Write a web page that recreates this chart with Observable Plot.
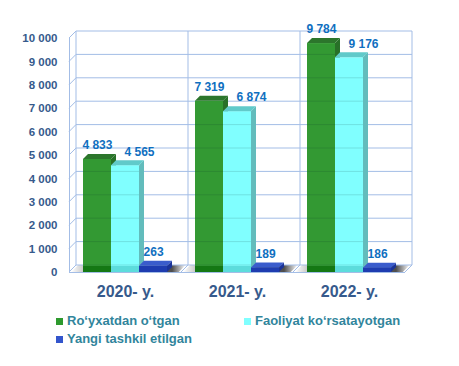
<!DOCTYPE html>
<html>
<head>
<meta charset="utf-8">
<script src="https://cdn.jsdelivr.net/npm/d3@7"></script>
<script src="https://cdn.jsdelivr.net/npm/@observablehq/plot@0.6"></script>
<style>
  html, body { margin: 0; padding: 0; background: #ffffff; }
  #wrap { position: relative; width: 459px; height: 366px; overflow: hidden; font-family: "Liberation Sans", Arial, sans-serif; }
  #chart svg { display: block; }
  #chart [aria-label^="x-axis"] text { font-size: 16px; }
  #chart [aria-label^="y-axis"] text { font-size: 11.5px; }
  .item { position: absolute; display: flex; align-items: center; gap: 4px; font-size: 13px; line-height: 14px; font-weight: bold; color: #31859C; white-space: nowrap; }
  .sw { width: 7px; height: 7px; display: inline-block; }
</style>
</head>
<body>
<div id="wrap">
  <div id="chart"></div>
  <div id="legend"></div>
</div>
<script>
// ---- data ----
const years = ["2020- y.", "2021- y.", "2022- y."];
const registered = [4833, 7319, 9784];     // Ro‘yxatdan o‘tgan
const active = [4565, 6874, 9176];         // Faoliyat ko‘rsatayotgan
const newlyCreated = [263, 189, 186];      // Yangi tashkil etilgan
const seriesNames = ["Ro‘yxatdan o‘tgan", "Faoliyat ko‘rsatayotgan", "Yangi tashkil etilgan"];
const yTicks = [0, 1000, 2000, 3000, 4000, 5000, 6000, 7000, 8000, 9000, 10000];

const seriesValues = [registered, active, newlyCreated];
const palette = [
  {front: "#339933", top: "#2c762c", side: "#287028", strip: "#147814", legend: "#2e9a2e"},
  {front: "#80ffff", top: "#60caca", side: "#62bcbc", strip: "#5cdcdc", legend: "#80ffff"},
  {front: "#2244bb", top: "#3a5ccc", side: "#1a3399", strip: "#1e3cb0", legend: "#3355cc"}
];
const rows = [];
seriesValues.forEach((vals, k) => vals.forEach((v, i) => rows.push({year: years[i], series: seriesNames[k], k, value: v})));

const fmt = d => d3.format(",")(d).replace(/,/g, " ");
const NS = "http://www.w3.org/2000/svg";
function el(tag, attrs, parent) {
  const e = document.createElementNS(NS, tag);
  for (const a in attrs) e.setAttribute(a, attrs[a]);
  if (parent) parent.appendChild(e);
  return e;
}

// pseudo-3D scene (walls, grid, floor, bars) drawn with the plot's own scales
function scene(index, scales) {
  const {x, y} = scales;
  const g = el("g", {});
  const bw = x.bandwidth();
  const rx0 = x(years[0]);
  const rx1 = x(years[years.length - 1]) + bw;
  const y0 = y(0);
  const yTop = y(yTicks[yTicks.length - 1]);
  const D = 7, BD = 5;
  const grid = "#a3bde6";
  const line = (x1, y1, x2, y2, stroke, sw) => el("line", {x1, y1, x2, y2, stroke: stroke || grid, "stroke-width": sw || 1}, g);

  const defs = el("defs", {}, g);
  const lg = el("linearGradient", {id: "shadowGrad", x1: 0, y1: 0, x2: 1, y2: 0}, defs);
  [[0, 0], [0.1, 0.2], [0.3, 0.35], [0.88, 0.7], [1, 0]].forEach(([o, a]) =>
    el("stop", {offset: o, "stop-color": "#000", "stop-opacity": a}, lg));

  // floor shadows
  years.forEach(yr => {
    const a = x(yr) + bw * 0.02, b = x(yr) + bw * 0.98;
    el("polygon", {points: `${a},${y0} ${b},${y0} ${b + D},${y0 - D} ${a + D},${y0 - D}`, fill: "url(#shadowGrad)"}, g);
  });

  // grid on back wall and left wall
  yTicks.forEach(t => {
    line(rx0 + D, y(t) - D, rx1 + D, y(t) - D);
    line(rx0, y(t), rx0 + D, y(t) - D);
  });
  line(rx0 + 0.5, yTop, rx0 + 0.5, y0);
  line(rx0 + D, yTop - D, rx0 + D, y0 - D);
  line(rx1 + D, yTop - D, rx1 + D, y0 - D);
  years.slice(1).forEach(yr => {
    line(x(yr) + D, yTop - D, x(yr) + D, y0 - D);
    line(x(yr), y0, x(yr) + D, y0 - D);
  });
  line(rx0, y0 + 0.5, rx1, y0 + 0.5);
  line(rx1, y0, rx1 + D, y0 - D);

  // bars
  const w = bw / 4;
  seriesValues.forEach((vals, k) => {
    const c = palette[k];
    vals.forEach((v, i) => {
      const bx = x(years[i]) + bw / 8 + k * w;
      const yv = y(v);
      el("polygon", {points: `${bx + w},${yv} ${bx + w + BD},${yv - BD} ${bx + w + BD},${y0 - BD} ${bx + w},${y0}`, fill: c.side}, g);
      el("rect", {x: bx, y: yv, width: w, height: y0 - yv, fill: c.front}, g);
      const sh = Math.min(6, y0 - yv);
      el("rect", {x: bx, y: y0 - sh, width: w, height: sh, fill: c.strip}, g);
      yTicks.forEach(t => {
        const gy = y(t) - D;
        if (gy > yv + 2 && gy < y0 - 6) line(bx, gy, bx + w, gy, "rgba(0,40,40,0.14)", 1);
      });
      el("polygon", {points: `${bx},${yv} ${bx + w},${yv} ${bx + w + BD},${yv - BD} ${bx + BD},${yv - BD}`, fill: c.top}, g);
    });
  });
  return g;
}

const bwPx = (459 - 68 - 54) / years.length;
const labelShift = [-bwPx / 4, 14, bwPx / 4];

const chart = Plot.plot({
  width: 459,
  height: 300,
  marginLeft: 68,
  marginRight: 54,
  marginTop: 38,
  marginBottom: 28,
  x: {type: "band", domain: years, padding: 0, tickSize: 0, tickPadding: 13, label: null},
  y: {domain: [0, 10000], ticks: yTicks, tickFormat: fmt, tickSize: 0, tickPadding: 11, label: null},
  style: {fontFamily: "'Liberation Sans', Arial, sans-serif", fontWeight: "bold", color: "#365a8c", background: "transparent", overflow: "visible"},
  marks: [
    scene,
    ...[0, 1, 2].map(k => Plot.text(rows.filter(r => r.k === k), {
      x: "year", y: "value", text: d => fmt(d.value),
      dx: labelShift[k], dy: -14,
      fill: "#0f6fc0", fontSize: 12, fontWeight: "bold"
    }))
  ]
});
document.getElementById("chart").appendChild(chart);

// legend
const legendPos = [[56, 314], [244, 314], [56, 332]];
const legend = document.getElementById("legend");
seriesNames.forEach((name, k) => {
  const it = document.createElement("div");
  it.className = "item";
  it.style.left = legendPos[k][0] + "px";
  it.style.top = legendPos[k][1] + "px";
  const sw = document.createElement("span");
  sw.className = "sw";
  sw.style.background = palette[k].legend;
  const tx = document.createElement("span");
  tx.textContent = name;
  it.appendChild(sw);
  it.appendChild(tx);
  legend.appendChild(it);
});
</script>
</body>
</html>
